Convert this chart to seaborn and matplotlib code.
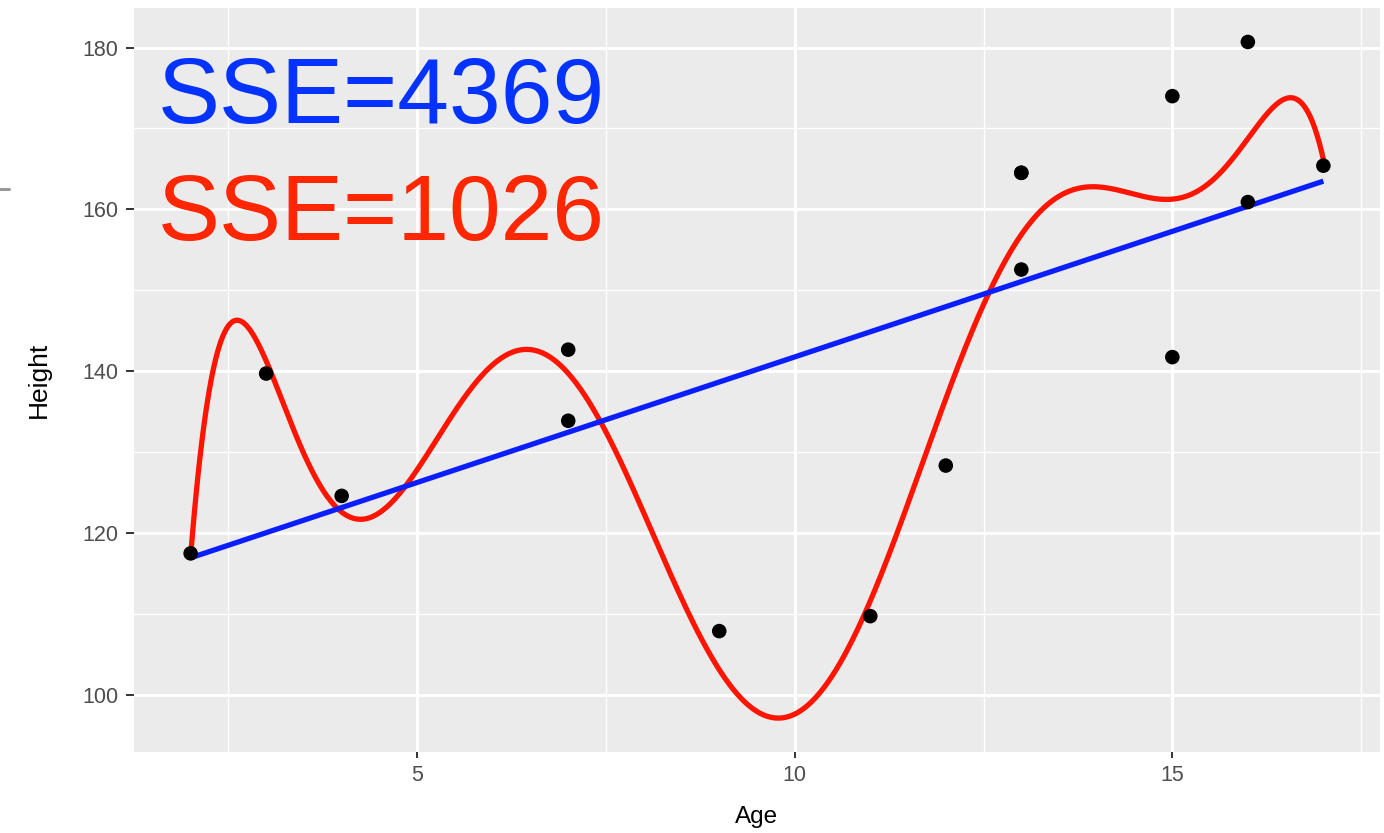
import numpy as np
import pandas as pd
import matplotlib
matplotlib.use("Agg")
import matplotlib.pyplot as plt
from matplotlib.ticker import FixedLocator
from matplotlib.lines import Line2D
import seaborn as sns

# Observed ages and heights (two children share age 13 / height 164.5)
age = [2, 3, 4, 7, 7, 9, 11, 12, 13, 13, 13, 15, 15, 16, 16, 17]
height = [117.46, 139.7, 124.57, 142.65, 133.86, 107.85, 109.7, 128.32,
          164.52, 164.52, 152.56, 174.0, 141.73, 180.7, 160.9, 165.4]

# Labels for the two fits
sse_linear = "SSE=4369"
sse_poly = "SSE=1026"

x_major = [5, 10, 15]
x_minor = [2.5, 7.5, 12.5, 17.5]
y_major = [100, 120, 140, 160, 180]
y_minor = [110, 130, 150, 170]

df = pd.DataFrame({"Age": age, "Height": height})

# Degree-8 least-squares polynomial, evaluated on a fine grid over the data range
coef = np.polyfit(df["Age"], df["Height"], 8)
grid = np.linspace(df["Age"].min(), df["Age"].max(), 600)
curve = pd.DataFrame({"Age": grid, "Height": np.polyval(coef, grid)})

sns.set_theme(style="darkgrid")
plt.rcParams["font.family"] = ["Liberation Sans", "DejaVu Sans"]

fig = plt.figure(figsize=(13.84, 8.33), dpi=100)
ax = fig.add_axes([134 / 1384, 1 - 752 / 833, (1380 - 134) / 1384, (752 - 8) / 833])
ax.set_facecolor("#EBEBEB")

sns.lineplot(data=curve, x="Age", y="Height", color="#FF1400", lw=3.8,
             ax=ax, zorder=3, sort=False)
sns.regplot(data=df, x="Age", y="Height", order=1, ci=None, scatter=False,
            ax=ax, line_kws=dict(color="#0A1EFF", lw=3.8, zorder=4,
                                 solid_capstyle="butt"))
sns.scatterplot(data=df, x="Age", y="Height", color="black", s=110,
                edgecolor="none", ax=ax, zorder=5)

ax.set_xlim(1.25, 17.75)
ax.set_ylim(92.9, 184.9)

ax.xaxis.set_major_locator(FixedLocator(x_major))
ax.xaxis.set_minor_locator(FixedLocator(x_minor))
ax.yaxis.set_major_locator(FixedLocator(y_major))
ax.yaxis.set_minor_locator(FixedLocator(y_minor))
ax.grid(which="major", color="white", lw=2.1)
ax.grid(which="minor", color="white", lw=1.0)
ax.set_axisbelow(True)
for s in ax.spines.values():
    s.set_visible(False)

ax.tick_params(which="major", width=1.4, color="#333333",
               labelsize=15.5, labelcolor="#4D4D4D")
ax.tick_params(axis="x", which="major", bottom=True, length=4.5, pad=5)
ax.tick_params(axis="y", which="major", left=True, length=6, pad=5)
ax.tick_params(which="minor", length=0)

ax.set_xlabel("Age", fontsize=17.5, color="black", labelpad=14)
ax.set_ylabel("Height", fontsize=19, color="black", labelpad=23)

# Fit-quality annotations
fig.text(158 / 1384, 1 - 123 / 833, sse_linear, color="#0433FF",
         fontsize=67, ha="left", va="baseline")
fig.text(158 / 1384, 1 - 240 / 833, sse_poly, color="#FF2600",
         fontsize=67, ha="left", va="baseline")

# Short gray dash at the left margin
fig.add_artist(Line2D([0, 9 / 1384], [1 - 189 / 833, 1 - 189 / 833],
                      color="#999999", lw=2.2, transform=fig.transFigure))

fig.savefig("out.png", dpi=100)
